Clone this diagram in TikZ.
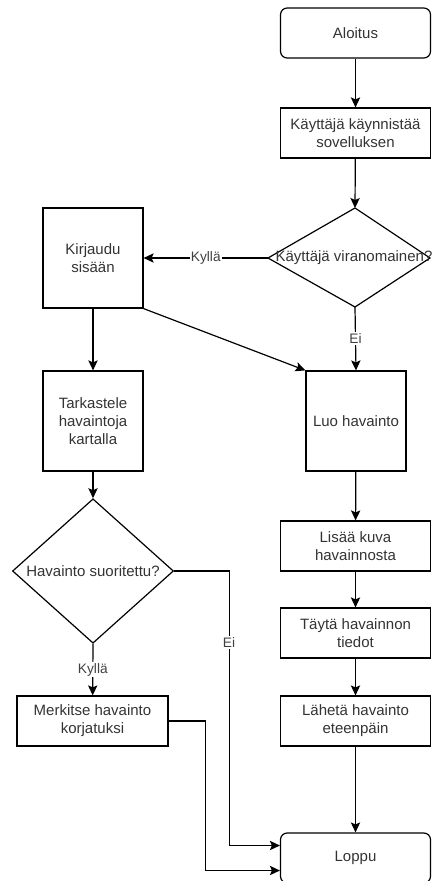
\documentclass[tikz,border=0pt]{standalone}
\usepackage{fontspec}
\setmainfont{Liberation Sans}
\usetikzlibrary{arrows.meta,shapes.geometric,calc}

\begin{document}
\begin{tikzpicture}[x=0.75pt, y=-0.75pt,
    box/.style={draw, line width=0.9pt, minimum width=112.5pt, minimum height=37.5pt,
      align=center, inner sep=2pt, text=black!80, font=\fontsize{11.25}{13.5}\selectfont},
    bigbox/.style={box, minimum width=75pt, minimum height=75pt},
    startstop/.style={box, rounded corners=5pt},
    decision/.style={draw, diamond, line width=0.9pt, inner sep=0pt, minimum width=120.75pt,
      minimum height=73.5pt, text=black!80, font=\fontsize{11.25}{13.5}\selectfont},
    arrow/.style={line width=0.9pt, -{Stealth[length=7.5pt, width=7pt, inset=1.5pt]}},
    edgelabel/.style={fill=white, inner sep=1pt, text=black!75, font=\fontsize{10.3}{12}\selectfont}]
  \useasboundingbox (0,0) rectangle (434,881);

  % Oikea sarake
  \node[startstop] (aloitus) at (355.5,33) {Aloitus};
  \node[box] (kaynnistaa) at (355.5,133) {Käyttäjä käynnistää\\sovelluksen};
  % Käyttäjä viranomainen? (vino salmiakki)
  \coordinate (vir-n) at (355,208); \coordinate (vir-e) at (430,258);
  \coordinate (vir-s) at (355,307); \coordinate (vir-w) at (268,258);
  \draw[line width=0.9pt] (vir-n) -- (vir-e) -- (vir-s) -- (vir-w) -- cycle;
  \node[text=black!80, font=\fontsize{11.25}{13.5}\selectfont, inner sep=0pt] (viranomainen) at (354,258) {Käyttäjä viranomainen?};
  \node[bigbox] (luo) at (356,421) {Luo havainto};
  \node[box] (lisaa) at (355.5,546) {Lisää kuva\\havainnosta};
  \node[box] (tayta) at (355.5,633) {Täytä havainnon\\tiedot};
  \node[box] (laheta) at (355.5,721) {Lähetä havainto\\eteenpäin};
  \node[startstop] (loppu) at (355.5,858) {Loppu};

  % Vasen sarake
  \node[bigbox] (kirjaudu) at (93,258) {Kirjaudu\\sisään};
  \node[bigbox] (tarkastele) at (93,421) {Tarkastele\\havaintoja\\kartalla};
  \node[decision] (suoritettu) at (93,571) {Havainto suoritettu?};
  \node[box, minimum width=113.25pt] (merkitse) at (92.5,721) {Merkitse havainto\\korjatuksi};

  % Nuolet
  \draw[arrow] (aloitus) -- (kaynnistaa);
  \draw[arrow] (kaynnistaa) -- (vir-n);
  \draw[arrow] (vir-w) -- node[edgelabel] {Kyllä} (kirjaudu.east);
  \draw[arrow] (vir-s) -- node[edgelabel] {Ei} (luo.north);
  \draw[arrow] (kirjaudu.south east) -- (luo.north west);
  \draw[arrow] (kirjaudu) -- (tarkastele);
  \draw[arrow] (tarkastele) -- (suoritettu.north);
  \draw[arrow] (suoritettu.south) -- node[edgelabel] {Kyllä} (merkitse);
  \draw[arrow] (suoritettu.east) -- ++(55,0) |- node[edgelabel, pos=0.13] {Ei} ($(loppu.west)+(0,-12.5)$);
  \draw[arrow] (merkitse.east) -- ++(37,0) |- ($(loppu.west)+(0,12.5)$);
  \draw[arrow] (luo) -- (lisaa);
  \draw[arrow] (lisaa) -- (tayta);
  \draw[arrow] (tayta) -- (laheta);
  \draw[arrow] (laheta) -- (loppu);
\end{tikzpicture}
\end{document}
